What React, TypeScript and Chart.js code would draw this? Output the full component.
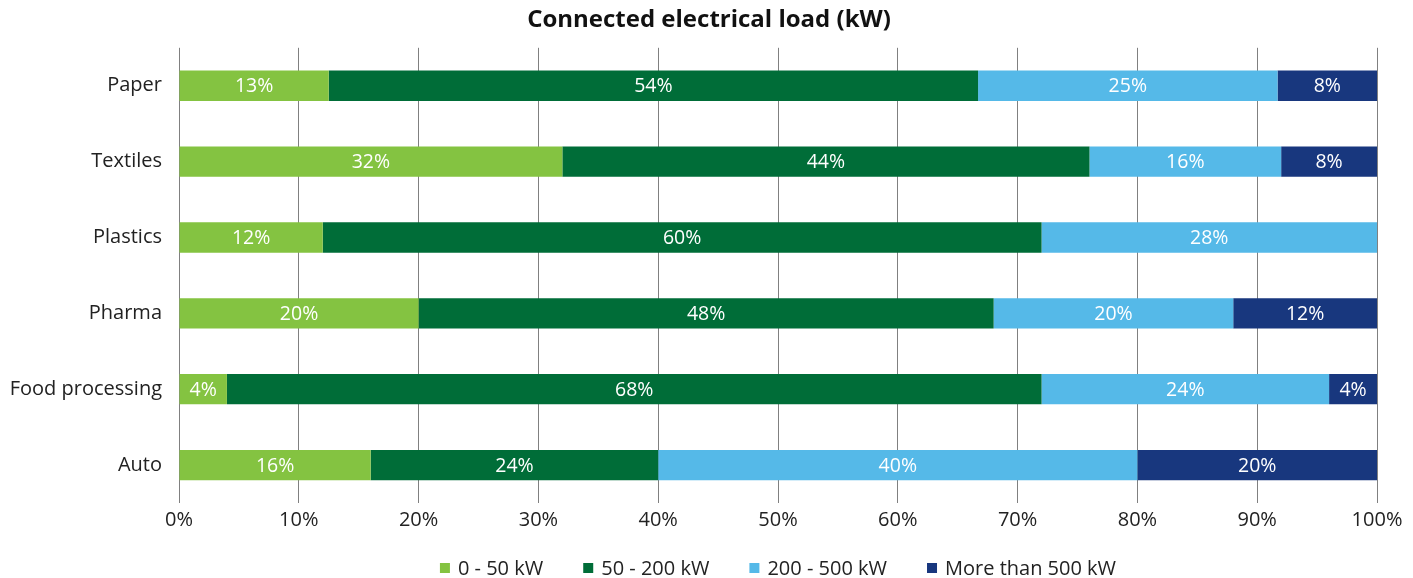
import React, { useEffect, useRef } from "react";
import { Chart, registerables } from "chart.js";

Chart.register(...registerables);

const categories = ["Paper", "Textiles", "Plastics", "Pharma", "Food processing", "Auto"];
const seriesNames = ["0 - 50 kW", "50 - 200 kW", "200 - 500 kW", "More than 500 kW"];
const load0to50 = [12.5, 32, 12, 20, 4, 16];
const load50to200 = [54.2, 44, 60, 48, 68, 24];
const load200to500 = [25, 16, 28, 20, 24, 40];
const loadOver500 = [8.3, 8, 0, 12, 4, 20];
const xTicks = [0, 10, 20, 30, 40, 50, 60, 70, 80, 90, 100];
const colors = ["#84c341", "#006d38", "#55b9e8", "#18377e"];

const FONT = "'Open Sans', 'Noto Sans', sans-serif";

const barLabels = {
  id: "barLabels",
  afterDatasetsDraw(chart: any) {
    const ctx = chart.ctx;
    ctx.save();
    ctx.font = `19.5px ${FONT}`;
    ctx.fillStyle = "#ffffff";
    ctx.textAlign = "center";
    ctx.textBaseline = "middle";
    chart.data.datasets.forEach((ds: any, di: number) => {
      const meta = chart.getDatasetMeta(di);
      meta.data.forEach((el: any, i: number) => {
        const v = ds.data[i];
        if (!v) return;
        const p = el.getProps(["x", "y", "base"], true);
        ctx.fillText(Math.round(v) + "%", (p.x + p.base) / 2, p.y + 1);
      });
    });
    ctx.restore();
  },
};

const bottomLegend = {
  id: "bottomLegend",
  afterDraw(chart: any) {
    const ctx = chart.ctx;
    const area = chart.chartArea;
    const box = 10;
    const boxGap = 8;
    const itemGap = 40;
    const y = chart.height - 10;
    ctx.save();
    ctx.font = `20px ${FONT}`;
    ctx.textBaseline = "middle";
    ctx.textAlign = "left";
    const items = chart.data.datasets.map((ds: any) => ({
      text: ds.label,
      color: ds.backgroundColor,
      w: ctx.measureText(ds.label).width,
    }));
    const total =
      items.reduce((s: number, it: any) => s + box + boxGap + it.w, 0) +
      itemGap * (items.length - 1);
    let x = (area.left + area.right) / 2 - total / 2;
    items.forEach((it: any) => {
      ctx.fillStyle = it.color;
      ctx.fillRect(x, y - box / 2, box, box);
      ctx.fillStyle = "#222";
      ctx.fillText(it.text, x + box + boxGap, y + 1);
      x += box + boxGap + it.w + itemGap;
    });
    ctx.restore();
  },
};

export default function App() {
  const ref = useRef<HTMLCanvasElement | null>(null);
  useEffect(() => {
    if (!ref.current) return;
    const values = [load0to50, load50to200, load200to500, loadOver500];
    const chart = new Chart(ref.current, {
      type: "bar",
      data: {
        labels: categories,
        datasets: seriesNames.map((name, i) => ({
          label: name,
          data: values[i],
          backgroundColor: colors[i],
          borderWidth: 0,
          barPercentage: 0.4,
          categoryPercentage: 1,
        })),
      },
      options: {
        indexAxis: "y",
        animation: false,
        responsive: true,
        maintainAspectRatio: false,
        layout: { padding: { left: 5, right: 0, top: 0, bottom: 41 } },
        scales: {
          x: {
            stacked: true,
            min: 0,
            max: 100,
            afterBuildTicks: (scale: any) => {
              scale.ticks = xTicks.map((v) => ({ value: v }));
            },
            afterFit: (scale: any) => {
              scale.paddingRight = 36;
            },
            ticks: {
              callback: (v: any) => v + "%",
              color: "#222",
              font: { family: FONT, size: 20 },
              padding: 5,
              maxRotation: 0,
            },
            grid: { color: "#808080", lineWidth: 1, drawTicks: false },
            border: { display: false },
          },
          y: {
            stacked: true,
            afterFit: (scale: any) => {
              scale.width = 174;
            },
            ticks: {
              color: "#222",
              font: { family: FONT, size: 20 },
              padding: 17,
            },
            grid: { display: false, drawTicks: false },
            border: { display: false },
          },
        },
        plugins: {
          title: {
            display: true,
            text: "Connected electrical load (kW)",
            color: "#111",
            font: { family: FONT, size: 24, weight: "bold" },
            padding: { top: 6, bottom: 13 },
          },
          legend: { display: false },
          tooltip: { enabled: false },
        },
      },
      plugins: [barLabels, bottomLegend],
    } as any);
    return () => chart.destroy();
  }, []);
  return (
    <div style={{ position: "fixed", left: 0, top: 0, width: 1413, height: 578 }}>
      <canvas ref={ref} />
    </div>
  );
}
